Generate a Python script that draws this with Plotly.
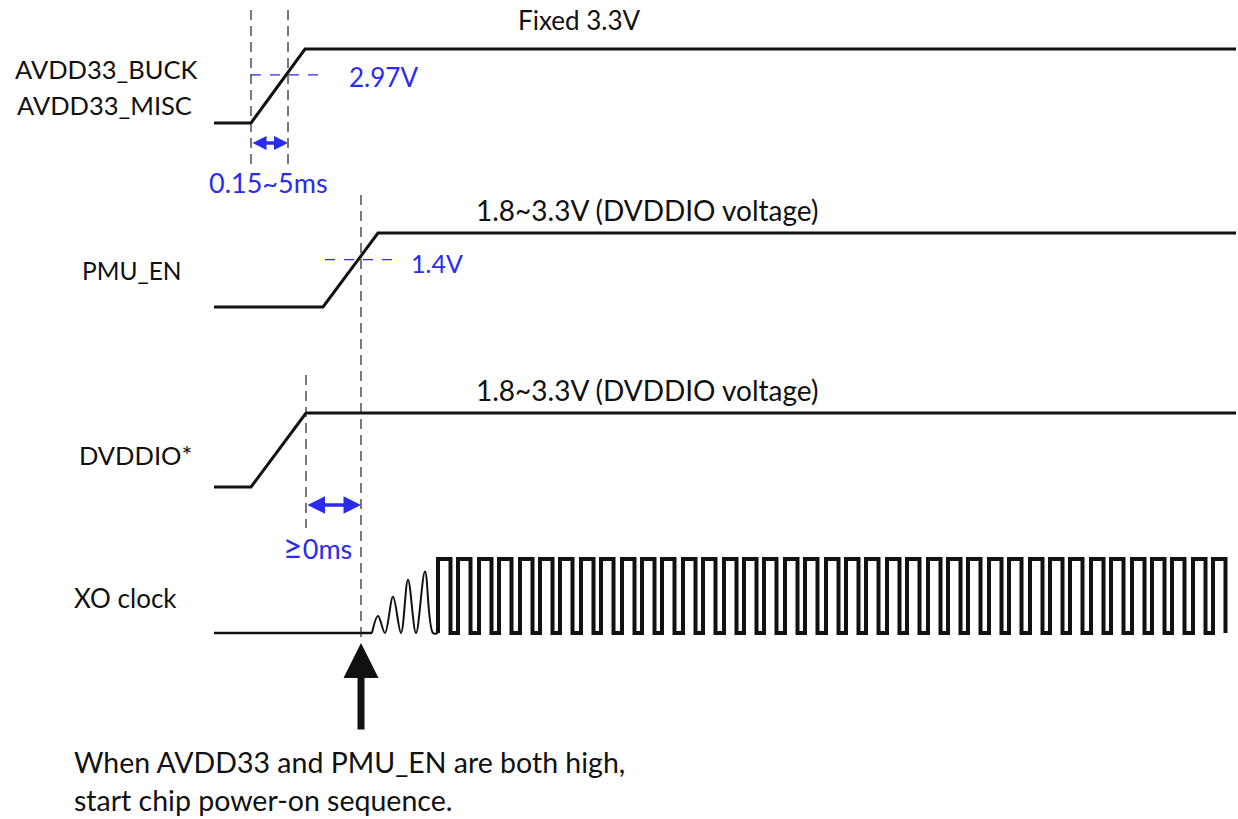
import plotly.graph_objects as go

# ---------------- data (diagram time units / normalised levels) ----------------
avdd_t = [214, 251, 305, 1236]
avdd_lv = [0, 0, 1, 1]
pmu_t = [214, 323, 378, 1236]
pmu_lv = [0, 0, 1, 1]
dvdd_t = [214, 251, 306, 1236]
dvdd_lv = [0, 0, 1, 1]

xo_flat_t = [214, 372]
xo_flat_lv = [0, 0]
ring_t = [372, 378, 385, 393, 401, 408, 416, 425, 433, 438]
ring_lv = [0, 0.23, 0, 0.49, 0, 0.72, 0, 0.83, 0, 0]
clock_rise_t = [438, 458, 479, 499, 520, 540, 560, 581, 601, 622, 642, 662, 683,
                703, 724, 744, 764, 785, 805, 826, 846, 866, 887, 907, 928, 948,
                968, 989, 1009, 1030, 1050, 1070, 1091, 1111, 1132, 1152, 1172,
                1193, 1213]
clock_high = 12.5

avdd_cross_t = 288      # 2.97V crossing
avdd_thr_lv = 0.65
pmu_cross_t = 361       # 1.4V crossing
pmu_thr_lv = 0.64
dvdd_high_t = 306

labels = ["AVDD33_BUCK", "AVDD33_MISC", "PMU_EN", "DVDDIO*", "XO clock"]

# ---------------- layout helpers ----------------
row_base = {"avdd": 123, "pmu": 307, "dvdd": 487, "xo": 633}
row_h = 74
BLUE = "#2b2bef"
BLACK = "#111111"
FONT = "Lato"


def ypos(row, lv):
    return [row_base[row] - v * row_h for v in lv]


fig = go.Figure()


def line(x, y, color=BLACK, width=3, dash=None, shape="linear"):
    fig.add_trace(go.Scatter(x=x, y=y, mode="lines", hoverinfo="skip",
                             line=dict(color=color, width=width, dash=dash, shape=shape)))


line(avdd_t, ypos("avdd", avdd_lv))
line(pmu_t, ypos("pmu", pmu_lv))
line(dvdd_t, ypos("dvdd", dvdd_lv))
line(xo_flat_t, ypos("xo", xo_flat_lv), width=2.5)
line(ring_t, ypos("xo", ring_lv), width=2, shape="spline")

cx, cl = [], []
for r in clock_rise_t:
    cx += [r, r, r + clock_high, r + clock_high]
    cl += [0, 1, 1, 0]
line(cx, ypos("xo", cl), width=4)

# dashed vertical markers
vd = "10px,6px"
line([avdd_t[1], avdd_t[1]], [10, 165], color="#222", width=1.2, dash=vd)
line([avdd_cross_t, avdd_cross_t], [10, 165], color="#222", width=1.2, dash=vd)
line([pmu_cross_t, pmu_cross_t], [195, 640], color="#222", width=1.2, dash=vd)
line([dvdd_high_t, dvdd_high_t], [375, 528], color="#222", width=1.2, dash=vd)

# threshold dashes
yth_a = ypos("avdd", [avdd_thr_lv])[0]
line([avdd_t[1], 326], [yth_a, yth_a], color=BLUE, width=1.3, dash="10px,9px")
yth_p = ypos("pmu", [pmu_thr_lv])[0]
line([325, 398], [yth_p, yth_p], color=BLUE, width=1.3, dash="10px,9px")

ann = []


def txt(x, y, s, color=BLACK, size=25, xanchor="left"):
    ann.append(dict(x=x, y=y, text=s, showarrow=False, xanchor=xanchor, yanchor="middle",
                    font=dict(family=FONT, size=size, color=color)))


txt(13, 69, labels[0], size=25.5)
txt(15, 105, labels[1], size=25.5)
txt(80, 270, labels[2], size=24.5)
txt(77, 455, labels[3], size=25.5)
txt(72, 598, labels[4], size=26)
txt(516, 20, "Fixed 3.3V", size=26)
txt(347, 77, "2.97V", color=BLUE, size=26)
txt(207, 182, "0.15~5ms", color=BLUE, size=27)
txt(474, 210, "1.8~3.3V (DVDDIO voltage)", size=28)
txt(409, 263, "1.4V", color=BLUE, size=25)
txt(474, 390, "1.8~3.3V (DVDDIO voltage)", size=28)
txt(281, 545, "<span style='font-size:34px'>≥</span>0ms", color=BLUE, size=27)
txt(72, 762, "When AVDD33 and PMU_EN are both high,", size=28.5)
txt(72, 800, "start chip power-on sequence.", size=28.5)

# double-headed blue arrows
for (x0, x1, y, sz) in [(avdd_t[1], avdd_cross_t, 143, 0.8), (dvdd_high_t, pmu_cross_t, 505, 1)]:
    ann.append(dict(x=x1, y=y, ax=x0, ay=y, axref="x", ayref="y", xref="x", yref="y",
                    text="", showarrow=True, arrowside="end+start", arrowhead=2,
                    startarrowhead=2, arrowwidth=3.5, arrowsize=sz, startarrowsize=sz,
                    arrowcolor=BLUE))

# big black arrow
ann.append(dict(x=pmu_cross_t, y=643, ax=pmu_cross_t, ay=731, axref="x", ayref="y",
                text="", showarrow=True, arrowhead=2, arrowwidth=7, arrowsize=1,
                arrowcolor=BLACK))

fig.update_layout(
    width=1238, height=819, margin=dict(l=0, r=0, t=0, b=0),
    paper_bgcolor="white", plot_bgcolor="white", showlegend=False,
    xaxis=dict(range=[0, 1238], visible=False, fixedrange=True),
    yaxis=dict(range=[819, 0], visible=False, fixedrange=True),
    annotations=ann,
)

fig.write_html("out.html", config={"displayModeBar": False},
               post_script="document.body.style.margin='0';")
